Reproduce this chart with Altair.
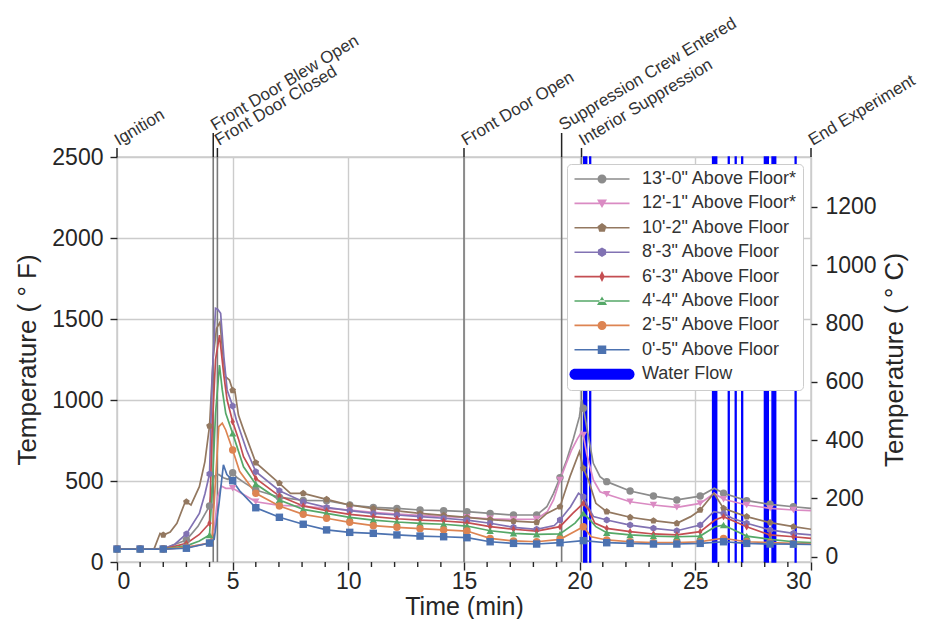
import json
import altair as alt
import numpy as np
import pandas as pd

FONT = "Liberation Sans"
INK = "#262626"

SERIES = ["13'-0\" Above Floor*", "12'-1\" Above Floor*", "10'-2\" Above Floor",
          "8'-3\" Above Floor", "6'-3\" Above Floor", "4'-4\" Above Floor",
          "2'-5\" Above Floor", "0'-5\" Above Floor"]
COLORS = ["#8c8c8c", "#da8bc3", "#937860", "#8172b3", "#c44e52", "#55a868", "#dd8452", "#4c72b0"]

PENT = "M0,-0.95L0.9,-0.29L0.56,0.77L-0.56,0.77L-0.9,-0.29Z"
HEXA = "M0,-0.95L0.82,-0.475L0.82,0.475L0,0.95L-0.82,0.475L-0.82,-0.475Z"
TDIA = "M0,-1L0.6,0L0,1L-0.6,0Z"
MARK_SHAPES = ["circle", "triangle-down", PENT, HEXA, TDIA, "triangle-up", "circle", "square"]

# legend symbols: thin bar (line) + marker, all filled
LN = "M-5.5,-0.16L5.5,-0.16L5.5,0.16L-5.5,0.16Z"
LEG_PATHS = [
    LN + "M0.9,0A0.9,0.9 0 1 1 -0.9,0A0.9,0.9 0 1 1 0.9,0Z",
    LN + "M-1,-0.8L1,-0.8L0,0.9Z",
    LN + "M0,-0.95L0.9,-0.29L0.56,0.77L-0.56,0.77L-0.9,-0.29Z",
    LN + "M0,-0.95L0.82,-0.475L0.82,0.475L0,0.95L-0.82,0.475L-0.82,-0.475Z",
    LN + "M0,-1.1L0.55,0L0,1.1L-0.55,0Z",
    LN + "M-1,0.8L1,0.8L0,-0.9Z",
    LN + "M0.9,0A0.9,0.9 0 1 1 -0.9,0A0.9,0.9 0 1 1 0.9,0Z",
    LN + "M-0.85,-0.85L0.85,-0.85L0.85,0.85L-0.85,0.85Z",
    "M-5.4,-1.1L5.4,-1.1A1.1,1.1 0 0 1 5.4,1.1L-5.4,1.1A1.1,1.1 0 0 1 -5.4,-1.1Z",
]
LEG_LABELS = SERIES + ["Water Flow"]
LEG_COLORS = COLORS + ["#0000ff"]

MARK_T = [0, 1, 2, 3, 4, 5, 6, 7.02, 8.05, 9.06, 10.06, 11.08, 12.1, 13.1, 14.12, 15.13,
          16.13, 17.14, 18.14, 19.15, 20.16, 21.17, 22.18, 23.19, 24.2, 25.21, 26.22,
          27.22, 28.23, 29.24]

t_13 = [0, 1, 2, 3, 3.5, 4, 4.1, 4.2, 4.4, 4.6, 4.8, 5, 5.2, 5.5, 6, 7.02, 8.05, 9.06, 10.06,
        11.08, 12.1, 13.1, 14.12, 15.13, 16.13, 17.14, 18.14, 18.58, 18.87, 19.15, 19.44,
        19.73, 19.99, 20.09, 20.16, 20.38, 20.59, 20.88, 21.17, 22.18, 23.19, 24.2, 25.21,
        25.82, 26.22, 27.22, 28.23, 29.24, 30]
f_13 = [80, 80, 82, 136, 220, 346, 450, 530, 540, 520, 510, 551, 520, 490, 444, 400, 380, 378,
        352, 337, 331, 321, 317, 311, 300, 290, 290, 341, 424, 521, 630, 763, 897, 1000, 949,
        774, 609, 527, 496, 438, 407, 383, 407, 455, 424, 379, 356, 341, 331]

t_12 = [0, 1, 2, 3, 4, 4.2, 4.35, 4.5, 4.7, 5, 5.3, 6, 7.02, 8.05, 9.06, 10.06, 11.08, 12.1,
        13.1, 14.12, 15.13, 16.13, 17.14, 18.14, 18.6, 18.87, 19.15, 19.4, 19.65, 19.9, 20.09,
        20.16, 20.3, 20.59, 20.88, 21.17, 22.18, 23.19, 24.2, 25.21, 25.82, 26.22, 27.22,
        28.23, 29.24, 30]
f_12 = [80, 80, 80, 90, 117, 200, 400, 470, 455, 455, 430, 372, 350, 345, 331, 321, 307, 296,
        288, 280, 276, 267, 263, 265, 310, 383, 506, 600, 691, 760, 804, 784, 671, 506, 434,
        418, 372, 352, 337, 362, 424, 387, 352, 331, 321, 317]

t_10 = [0, 1, 1.6, 1.86, 2, 2.3, 2.59, 2.95, 3, 3.2, 3.56, 3.8, 4, 4.16, 4.3, 4.45, 4.6, 4.69,
        4.86, 5, 5.1, 5.25, 5.45, 6, 7.02, 7.5, 8.05, 9.06, 10.06, 11.08, 12.1, 13.1, 14.12,
        15.13, 16.13, 17.14, 18.14, 18.58, 19.15, 19.58, 19.99, 20.16, 20.38, 20.7, 21.17,
        22.18, 23.19, 24.2, 24.8, 25.21, 25.8, 26.22, 27.22, 28.23, 29.24, 30]
f_10 = [80, 80, 80, 177, 167, 185, 239, 372, 372, 352, 465, 620, 840, 1267, 1440, 1480, 1250,
        1144, 1123, 1060, 1051, 907, 825, 613, 486, 424, 424, 387, 352, 330, 315, 300, 288,
        275, 262, 252, 245, 300, 341, 527, 681, 578, 506, 362, 311, 276, 255, 239, 280, 321,
        424, 331, 280, 243, 218, 202]

t_8 = [0, 1, 2, 2.5, 3, 3.56, 3.8, 4, 4.11, 4.26, 4.35, 4.48, 4.62, 4.76, 5, 5.16, 5.6, 6,
       7.02, 8.05, 9.06, 10.06, 11.08, 12.1, 13.1, 14.12, 15.13, 16.13, 17.14, 18.14, 18.9,
       19.15, 19.6, 19.95, 20.16, 20.4, 20.6, 21.17, 22.18, 23.19, 24.2, 25.21, 25.8, 26.22,
       26.6, 27.22, 28.23, 29.24, 30]
f_8 = [80, 80, 80, 110, 173, 300, 420, 543, 1123, 1566, 1560, 1535, 1267, 1062, 963, 877, 691,
       557, 440, 372, 337, 317, 300, 290, 280, 270, 259, 239, 214, 202, 225, 259, 340, 424,
       403, 330, 280, 259, 228, 208, 193, 228, 311, 300, 270, 239, 198, 177, 167]

t_6 = [0, 1, 2, 3, 3.56, 4, 4.11, 4.26, 4.43, 4.62, 4.76, 5, 5.25, 5.47, 6, 7.02, 8.05, 9.06,
       10.06, 11.08, 12.1, 13.1, 14.12, 15.13, 16.13, 17.14, 18.14, 19.15, 19.7, 20.16, 20.4,
       20.65, 21.17, 22.18, 23.19, 24.2, 25.21, 25.85, 26.22, 27.22, 28.23, 29.24, 30]
f_6 = [80, 80, 80, 115, 170, 239, 800, 1250, 1400, 1150, 1000, 866, 760, 650, 516, 407, 346,
       317, 294, 280, 267, 259, 253, 243, 218, 202, 191, 218, 300, 362, 320, 240, 208, 187,
       173, 167, 187, 259, 280, 218, 167, 156, 146]

t_4 = [0, 1, 2, 3, 3.56, 4, 4.11, 4.26, 4.43, 4.55, 4.7, 5, 5.47, 6, 7.02, 8.05, 9.06, 10.06,
       11.08, 12.1, 13.1, 14.12, 15.13, 16.13, 17.14, 18.14, 19.15, 19.8, 20.16, 20.45, 20.7,
       21.17, 22.18, 23.19, 24.2, 25.21, 25.85, 26.22, 27.22, 28.23, 29.24, 30]
f_4 = [80, 80, 80, 100, 130, 167, 424, 918, 1216, 1062, 918, 794, 588, 481, 383, 325, 300, 276,
       259, 247, 239, 233, 222, 193, 177, 171, 173, 240, 300, 260, 218, 181, 167, 160, 156,
       160, 218, 228, 160, 140, 125, 119]

t_2 = [0, 1, 2, 3, 4, 4.11, 4.26, 4.4, 4.55, 4.7, 5, 5.3, 6, 7.02, 8.05, 9.06, 10.06, 11.08,
       12.1, 13.1, 14.12, 15.13, 16.13, 17.14, 18.14, 19.15, 19.8, 20.16, 20.5, 21.17, 22.18,
       23.19, 24.2, 25.21, 25.85, 26.22, 27.22, 28.23, 29.24, 30]
f_2 = [80, 80, 80, 90, 117, 150, 506, 835, 857, 815, 691, 560, 424, 346, 294, 270, 245, 224,
       214, 206, 198, 191, 146, 130, 125, 140, 190, 218, 156, 136, 125, 119, 119, 125, 140,
       146, 125, 119, 115, 112]

t_0 = [0, 1, 2, 3, 4, 4.2, 4.4, 4.6, 4.75, 5, 5.3, 6, 7.02, 8.05, 9.06, 10.06, 11.08, 12.1,
       13.1, 14.12, 15.13, 16.13, 17.14, 18.14, 19.15, 20.16, 21.17, 22.18, 23.19, 24.2,
       25.21, 26.22, 27.22, 28.23, 29.24, 30]
f_0 = [80, 80, 80, 85, 117, 140, 350, 600, 540, 502, 440, 335, 276, 233, 198, 183, 177, 167,
       160, 156, 150, 125, 115, 111, 119, 132, 119, 115, 111, 111, 115, 125, 115, 111, 110, 108]

EVENT_LOW = ["Ignition", "Front Door Closed", "Front Door Open", "Interior Suppression", "End Experiment"]
EVENT_LOW_T = [0, 4.34, 15.0, 20.08, 30.0]
EVENT_HIGH = ["Front Door Blew Open", "Suppression Crew Entered"]
EVENT_HIGH_T = [4.16, 19.22]

WF_START = [20.18, 20.44, 25.75, 26.43, 26.73, 27.01, 27.99, 28.32, 29.32]
WF_END = [20.30, 20.47, 25.92, 26.46, 26.76, 27.04, 28.15, 28.47, 29.35]

X_TICKS = [0, 5, 10, 15, 20, 25, 30]
X_MINOR = [1, 2, 3, 4, 6, 7, 8, 9, 11, 12, 13, 14, 16, 17, 18, 19, 21, 22, 23, 24, 26, 27, 28, 29]
F_TICKS = [0, 500, 1000, 1500, 2000, 2500]
C_TICKS = [0, 200, 400, 600, 800, 1000, 1200]

W, H = 694, 405

# ---------- tables ----------
rows = []
for name, ts, fs in zip(SERIES, [t_13, t_12, t_10, t_8, t_6, t_4, t_2, t_0],
                        [f_13, f_12, f_10, f_8, f_6, f_4, f_2, f_0]):
    for t, f in zip(ts, fs):
        rows.append({"series": name, "t": t, "F": f,
                     "mk": bool(np.any(np.isclose(t, MARK_T)))})
df = pd.DataFrame(rows)
df_mk = df[df["mk"]]

ev_low = pd.DataFrame({"label": EVENT_LOW, "t": EVENT_LOW_T})
ev_high = pd.DataFrame({"label": EVENT_HIGH, "t": EVENT_HIGH_T})
ev_all = pd.concat([ev_low, ev_high])
ev_inside = ev_all[(ev_all["t"] > 0) & (ev_all["t"] < 30)]
wf = pd.DataFrame({"start": WF_START, "end": WF_END})

xscale = alt.Scale(domain=[0, 30], nice=False)
yscale = alt.Scale(domain=[0, 2500], nice=False)
cscale = alt.Scale(domain=SERIES, range=COLORS)

x_axis = alt.Axis(values=X_TICKS, title="Time (min)", tickSize=8, titleFontSize=25,
                  labelPadding=0, titlePadding=1)
y_axis = alt.Axis(values=F_TICKS, title="Temperature ( \u00b0 F)", tickSize=7, format="d",
                  labelPadding=7, titlePadding=11)

water = alt.Chart(wf).mark_rect(color="#0000ff", stroke="#0000ff", strokeWidth=1.6).encode(
    x=alt.X("start:Q", scale=xscale), x2="end:Q",
    y=alt.value(0), y2=alt.value(H))

minor = alt.Chart(pd.DataFrame({"t": X_MINOR})).mark_rule(color=INK, strokeWidth=1.4).encode(
    x=alt.X("t:Q", scale=xscale), y=alt.value(H), y2=alt.value(H + 5))

ev_rules = alt.Chart(ev_inside).mark_rule(color="#7a7a7a", strokeWidth=1.6).encode(
    x=alt.X("t:Q", scale=xscale), y=alt.value(0), y2=alt.value(H))

tick_low = alt.Chart(ev_low).mark_rule(color="#222222", strokeWidth=1.5).encode(
    x=alt.X("t:Q", scale=xscale), y=alt.value(-9), y2=alt.value(0))
tick_high = alt.Chart(ev_high).mark_rule(color="#222222", strokeWidth=1.5).encode(
    x=alt.X("t:Q", scale=xscale), y=alt.value(-24), y2=alt.value(0))

txt_kw = dict(angle=329, align="left", baseline="alphabetic", dx=2, font=FONT,
              fontSize=17, color="#333333")
text_low = alt.Chart(ev_low).mark_text(**txt_kw).encode(
    x=alt.X("t:Q", scale=xscale), y=alt.value(-10), text="label:N")
text_high = alt.Chart(ev_high).mark_text(**txt_kw).encode(
    x=alt.X("t:Q", scale=xscale), y=alt.value(-25), text="label:N")

lines = alt.Chart(df).mark_line(strokeWidth=1.7).encode(
    x=alt.X("t:Q", scale=xscale, axis=x_axis),
    y=alt.Y("F:Q", scale=yscale, axis=y_axis),
    color=alt.Color("series:N", scale=cscale, legend=None),
    detail="series:N")

markers = alt.Chart(df_mk).mark_point(filled=True, size=55, opacity=1).encode(
    x=alt.X("t:Q", scale=xscale),
    y=alt.Y("F:Q", scale=yscale),
    color=alt.Color("series:N", scale=cscale, legend=None),
    shape=alt.Shape("series:N", scale=alt.Scale(domain=SERIES, range=MARK_SHAPES), legend=None))

shape_expr = ("[" + ",".join("'" + p + "'" for p in LEG_PATHS) + "][indexof(["
              + ",".join(json.dumps(s) for s in LEG_LABELS) + "], datum.value)]")
leg = alt.Legend(title=None, orient="none", legendX=450, legendY=7, symbolSize=100,
                 symbolStrokeWidth=0, symbolOffset=20, labelOffset=31, labelFont=FONT,
                 labelFontSize=18, labelColor="#333333", labelLimit=300, rowPadding=6.4,
                 padding=6, strokeColor="#cccccc", fillColor="white", cornerRadius=4,
                 symbolOpacity=1, symbolType=alt.ExprRef(expr=shape_expr))
legend_layer = alt.Chart(pd.DataFrame({"series": LEG_LABELS})).transform_filter(
    "false").mark_point(filled=True, opacity=1).encode(
    fill=alt.Fill("series:N", scale=alt.Scale(domain=LEG_LABELS, range=LEG_COLORS), legend=leg))

main = alt.layer(water, minor, ev_rules, tick_low, tick_high, text_low, text_high, lines,
                 markers, legend_layer)

cel = alt.Chart(pd.DataFrame({"c": C_TICKS})).mark_point(opacity=0).encode(
    y=alt.Y("c:Q", scale=alt.Scale(domain=[(0 - 32) / 1.8, (2500 - 32) / 1.8], nice=False, zero=False),
            axis=alt.Axis(orient="right", values=C_TICKS, title="Temperature ( \u00b0 C)", format="d",
                          tickSize=6, labelPadding=8, titlePadding=5, titleAngle=270,
                          titleBaseline="top", grid=False)))

chart = alt.layer(main, cel).resolve_scale(y="independent").properties(
    width=W, height=H,
    autosize=alt.AutoSizeParams(type="none"),
    padding={"left": 109, "top": 149, "right": 108, "bottom": 57},
).configure_view(stroke="#cccccc", strokeWidth=1.5).configure_axis(
    domain=False, labelFont=FONT, titleFont=FONT, labelFontSize=23, titleFontSize=26,
    labelColor=INK, titleColor=INK, titleFontWeight="normal", tickColor=INK, tickWidth=1.4,
    gridColor="#cccccc", gridWidth=1.4)

chart.save("out.html", embed_options={"renderer": "svg", "actions": False})
